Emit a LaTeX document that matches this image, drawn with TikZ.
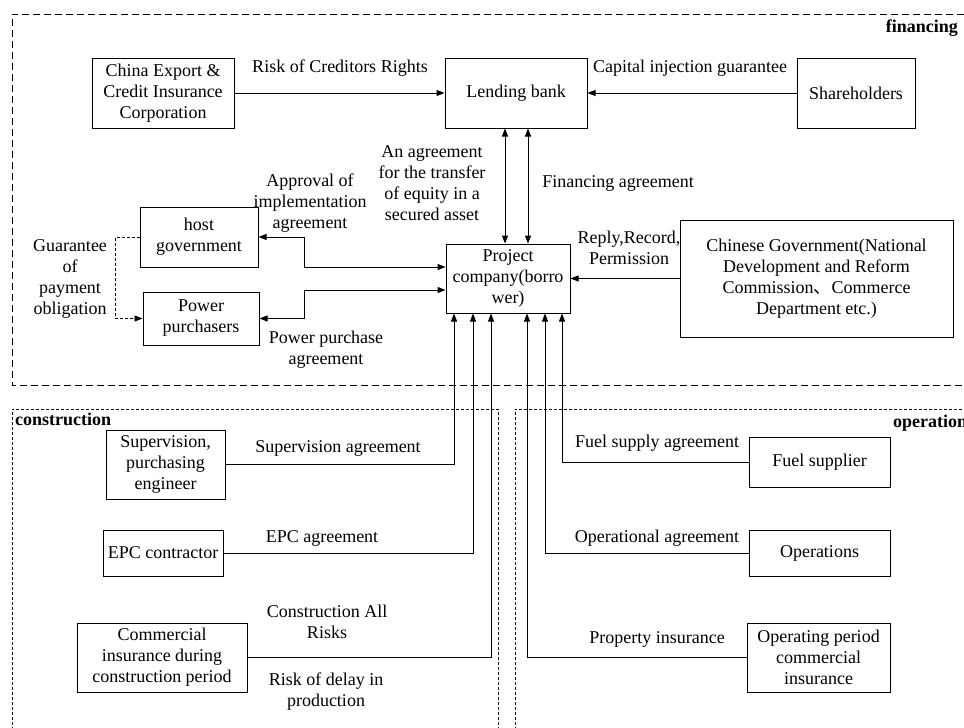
\documentclass[tikz,border=0pt]{standalone}
\usepackage{fontspec}
\setmainfont{Liberation Serif}
\newfontfamily\cjkfont{Noto Sans CJK SC}
\usetikzlibrary{arrows.meta}
\begin{document}
\begin{tikzpicture}[x=1pt,y=-1pt,
  every node/.style={font=\fontsize{18}{21}\selectfont},
  box/.style={draw, line width=1pt, align=center, inner sep=2pt},
  lbl/.style={align=center, inner sep=0pt},
  conn/.style={line width=1pt},
  frameA/.style={line width=0.9pt, dash pattern=on 7pt off 4pt},
  frameB/.style={line width=0.8pt, dash pattern=on 3pt off 2pt},
  >={Triangle[length=8pt,width=6pt]}]
\useasboundingbox (0,0) rectangle (964,728);
\fill[white] (0,0) rectangle (964,728);
\begin{scope}
\clip (0,0) rectangle (964,728);
% frames
\draw[frameA] (975,14) -- (12,14) -- (12,385) -- (975,385);
\draw[frameB] (12,740) -- (12,409) -- (498,409) -- (498,740);
\draw[frameB] (515,740) -- (515,409) -- (975,409);
\node[font=\fontsize{18}{21}\selectfont\bfseries, anchor=east, inner sep=0pt] (tfin) at (958,28) {financing};
\node[font=\fontsize{18}{21}\selectfont\bfseries, anchor=west, inner sep=0pt] (tcon) at (15,419) {construction};
\node[font=\fontsize{18}{21}\selectfont\bfseries, anchor=west, inner sep=0pt] (tope) at (893,423) {operation};

% boxes
\node[box, minimum width=142pt, minimum height=70pt] (cei) at (163,93) {China Export \&\\Credit Insurance\\Corporation};
\node[box, minimum width=142pt, minimum height=70pt] (bank) at (516,93) {Lending bank};
\node[box, minimum width=118pt, minimum height=70pt] (share) at (856,93) {Shareholders};
\node[box, minimum width=124pt, minimum height=69pt] (proj) at (508,278.5) {Project\\company(borro\\wer)};
\node[box, minimum width=118pt, minimum height=60pt] (host) at (199,237) {host\\government};
\node[box, minimum width=116pt, minimum height=53pt] (power) at (201,318.5) {Power\\purchasers};
\node[box, minimum width=273pt, minimum height=117pt] (cgov) at (816.5,278.5) {Chinese Government(National\\Development and Reform\\Commission{\cjkfont 、}Commerce\\Department etc.)};
\node[box, minimum width=119pt, minimum height=69pt] (sup) at (165.5,464.5) {Supervision,\\purchasing\\engineer};
\node[box, minimum width=120pt, minimum height=46pt] (epc) at (163,553) {EPC contractor};
\node[box, minimum width=170pt, minimum height=69pt] (cins) at (162,657.5) {Commercial\\insurance during\\construction period};
\node[box, minimum width=141pt, minimum height=50pt] (fuel) at (819.5,462) {Fuel supplier};
\node[box, minimum width=141pt, minimum height=46pt] (ops) at (819.5,553) {Operations};
\node[box, minimum width=143pt, minimum height=69pt] (oins) at (818.5,657.5) {Operating period\\commercial\\insurance};

% connectors
\draw[conn,->] (cei) -- (bank);
\draw[conn,->] (share) -- (bank);
\draw[conn,<->] ([xshift=-11pt]bank.south) -- ([xshift=-11pt]bank.south |- proj.north);
\draw[conn,<->] ([xshift=12pt]bank.south) -- ([xshift=12pt]bank.south |- proj.north);
\draw[conn,<->] ([yshift=11.5pt]proj.west) -- ++(-141,0) |- (host.east);
\draw[conn,<->] ([yshift=-11.5pt]proj.west) -- ++(-141,0) |- (power.east);
\draw[frameB,->] (host.west) -- ++(-24,0) |- (power.west);
\draw[conn,->] (cgov) -- (proj);
\draw[conn,->] (sup.east) -| ([xshift=-54pt]proj.south);
\draw[conn,->] (epc.east) -| ([xshift=-35pt]proj.south);
\draw[conn,->] (cins.east) -| ([xshift=-17pt]proj.south);
\draw[conn,->] (fuel.west) -| ([xshift=54pt]proj.south);
\draw[conn,->] (ops.west) -| ([xshift=37pt]proj.south);
\draw[conn,->] (oins.west) -| ([xshift=19pt]proj.south);

% labels
\node[lbl] (l1) at (340,68) {Risk of Creditors Rights};
\node[lbl] (l2) at (690,68) {Capital injection guarantee};
\node[lbl] (l3) at (432,183) {An agreement\\for the transfer\\of equity in a\\secured asset};
\node[lbl] (l4) at (618,183) {Financing agreement};
\node[lbl] (l5) at (310,203) {Approval of\\implementation\\agreement};
\node[lbl] (l6) at (70,279) {Guarantee\\of\\payment\\obligation};
\node[lbl] (l7) at (326,350) {Power purchase\\agreement};
\node[lbl] (l8) at (629,248) {Reply,Record,\\Permission};
\node[lbl] (l9) at (338,448) {Supervision agreement};
\node[lbl] (l10) at (322,538) {EPC agreement};
\node[lbl] (l11) at (327,622) {Construction All\\Risks};
\node[lbl] (l12) at (326,692) {Risk of delay in\\production};
\node[lbl] (l13) at (657,443) {Fuel supply agreement};
\node[lbl] (l14) at (657,538) {Operational agreement};
\node[lbl] (l15) at (657,639) {Property insurance};
\end{scope}
\end{tikzpicture}
\end{document}
